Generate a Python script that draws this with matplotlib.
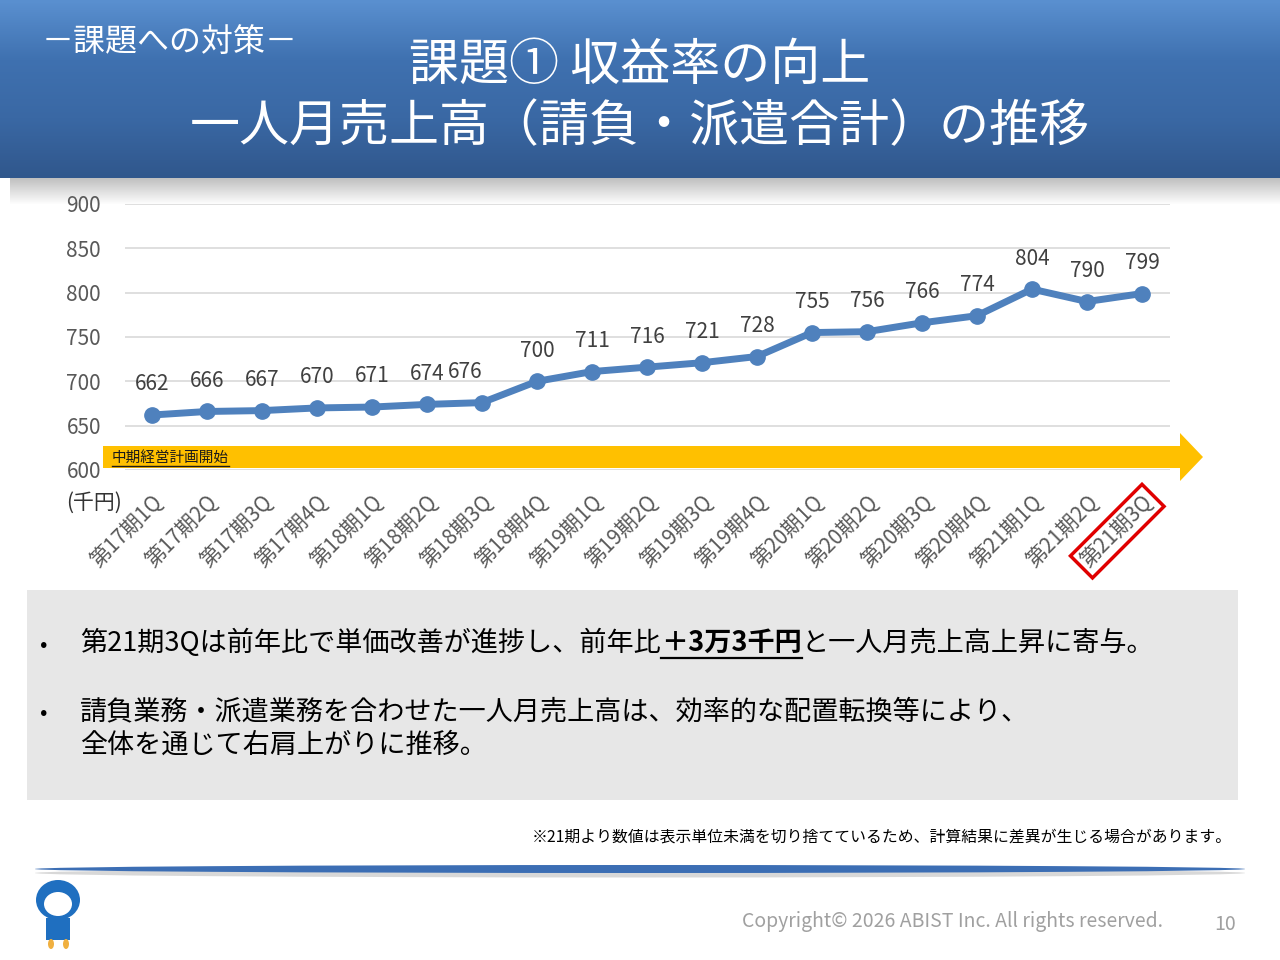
import numpy as np
import matplotlib
matplotlib.use("Agg")
import matplotlib.pyplot as plt
from matplotlib.patches import Polygon, Rectangle, Ellipse
from matplotlib.colors import LinearSegmentedColormap

plt.rcParams['font.family'] = ['Noto Sans CJK JP', 'DejaVu Sans']

# ---- data -------------------------------------------------------------
QUARTERS = ["第17期1Q", "第17期2Q", "第17期3Q", "第17期4Q",
            "第18期1Q", "第18期2Q", "第18期3Q", "第18期4Q",
            "第19期1Q", "第19期2Q", "第19期3Q", "第19期4Q",
            "第20期1Q", "第20期2Q", "第20期3Q", "第20期4Q",
            "第21期1Q", "第21期2Q", "第21期3Q"]
SALES = [662, 666, 667, 670, 671, 674, 676, 700, 711, 716,
         721, 728, 755, 756, 766, 774, 804, 790, 799]
Y_TICKS = [600, 650, 700, 750, 800, 850, 900]

TITLE_1 = "課題① 収益率の向上"
TITLE_2 = "一人月売上高（請負・派遣合計）の推移"
SUBTITLE = "－課題への対策－"
ARROW_LABEL = "中期経営計画開始"
UNIT = "(千円)"
BULLET_1 = ["第21期3Qは前年比で単価改善が進捗し、前年比", "＋3万3千円", "と一人月売上高上昇に寄与。"]
BULLET_2 = ["請負業務・派遣業務を合わせた一人月売上高は、効率的な配置転換等により、",
            "全体を通じて右肩上がりに推移。"]
FOOTNOTE = "※21期より数値は表示単位未満を切り捨てているため、計算結果に差異が生じる場合があります。"
COPYRIGHT = "Copyright© 2026 ABIST Inc. All rights reserved."
PAGE = "10"

LINE_COLOR = "#4F81BD"
GREY_TXT = "#595959"

fig = plt.figure(figsize=(12.8, 9.6), dpi=100)
fig.patch.set_facecolor("white")

# background axes in pixel units (y downwards)
bg = fig.add_axes([0, 0, 1, 1], zorder=0)
bg.set_xlim(0, 1280)
bg.set_ylim(960, 0)
bg.axis("off")

# header band with vertical gradient
hdr_cmap = LinearSegmentedColormap.from_list(
    "hdr", ["#5A90D0", "#3F71B0", "#3A68A4", "#30578C"])
grad = np.linspace(0, 1, 200).reshape(-1, 1)
bg.imshow(grad, extent=[0, 1280, 178, 0], aspect="auto", cmap=hdr_cmap, zorder=1)
# soft shadow under header
sh = np.zeros((30, 2, 4))
sh[..., :3] = 0.45
sh[..., 3] = np.linspace(0.45, 0, 30)[:, None]
bg.imshow(sh, extent=[10, 1280, 205, 178], aspect="auto", zorder=0.5)

bg.text(42, 42, SUBTITLE, color="white", fontsize=23, va="center", ha="left", zorder=3)
bg.text(640, 66, TITLE_1, color="white", fontsize=36, va="center", ha="center", zorder=3)
bg.text(640, 127, TITLE_2, color="white", fontsize=36, va="center", ha="center", zorder=3)

# ---- chart -----------------------------------------------------------
ax = fig.add_axes([124.5 / 1280, 1 - 470 / 960, 1045 / 1280, 266 / 960], zorder=2)
ax.patch.set_alpha(0)
x = np.arange(len(QUARTERS))
ax.set_xlim(-0.5, len(QUARTERS) - 0.5)
ax.set_ylim(Y_TICKS[0], Y_TICKS[-1])
ax.set_yticks(Y_TICKS)
ax.yaxis.grid(True, color="#D9D9D9", lw=1.2)
ax.set_axisbelow(True)
for s in ax.spines.values():
    s.set_visible(False)
ax.tick_params(axis="y", length=0, labelsize=15, labelcolor=GREY_TXT, pad=17)
ax.tick_params(axis="x", length=0, labelsize=15, labelcolor=GREY_TXT, pad=15)
ax.set_xticks(x)
ax.set_xticklabels(QUARTERS, rotation=45, ha="right", va="top",
                   rotation_mode="anchor")
last = ax.get_xticklabels()[-1]
last.set_bbox(dict(boxstyle="square,pad=0.22", fc="none", ec="#E00000", lw=2.5))

ax.plot(x, SALES, color=LINE_COLOR, lw=5, marker="o", ms=11, zorder=4)

label_nudge = {6: 6}  # label of 第18期3Q sits slightly left
for i, v in enumerate(SALES):
    dx = -label_nudge.get(i, 0) * 2
    ax.annotate(str(v), (i, v), xytext=(dx, 22), textcoords="offset points",
                ha="center", va="center", fontsize=15, color="#404040", zorder=5)

# yellow arrow across the chart (pixel coords)
arrow = Polygon([(103, 446), (1180, 446), (1180, 433), (1203, 457),
                 (1180, 481), (1180, 468), (103, 468)],
                closed=True, fc="#FFC000", ec="none",
                transform=bg.transData, clip_on=False, zorder=3)
ax.add_patch(arrow)
t = ax.text(112, 458, ARROW_LABEL, transform=bg.transData, fontsize=10.5,
            color="#1a1a1a", va="center", ha="left", zorder=6)
r = fig.canvas.get_renderer()
bb = t.get_window_extent(renderer=r)
ax.plot([112, 112 + bb.width], [466, 466], color="#1a1a1a", lw=1,
        transform=bg.transData, clip_on=False, zorder=6)

bg.text(66, 503, UNIT, fontsize=15, color="#333333", va="center", ha="left", zorder=3)

# ---- comment box -----------------------------------------------------
bg.add_patch(Rectangle((27, 590), 1211, 210, fc="#E7E7E7", ec="none", zorder=1))
fs = 19.5
bg.text(40, 645, "•", fontsize=16, va="center", ha="left", color="black", zorder=3)
bg.text(40, 713, "•", fontsize=16, va="center", ha="left", color="black", zorder=3)

xp = 80
for k, seg in enumerate(BULLET_1):
    txt = bg.text(xp, 643, seg, fontsize=fs, va="center", ha="left", color="black",
                  fontweight="bold" if k == 1 else "normal", zorder=3)
    w = txt.get_window_extent(renderer=r).width
    if k == 1:
        bg.plot([xp, xp + w], [658, 658], color="black", lw=1.6, zorder=3)
    xp += w
bg.text(80, 712, BULLET_2[0], fontsize=fs, va="center", ha="left", color="black", zorder=3)
bg.text(80, 745, BULLET_2[1], fontsize=fs, va="center", ha="left", color="black", zorder=3)

bg.text(1232, 837, FOOTNOTE, fontsize=11.4, va="center", ha="right", color="black", zorder=3)

# ---- footer ------------------------------------------------------------
bg.add_patch(Ellipse((640, 873), 1210, 9, fc="#BFBFBF", ec="none", alpha=0.6, zorder=1))
bg.add_patch(Ellipse((640, 869), 1210, 8, fc="#3C6EB4", ec="none", zorder=2))
bg.text(1163, 922, COPYRIGHT, fontsize=14, va="center", ha="right", color="#A0A0A0", zorder=3)
bg.text(1225, 925, PAGE, fontsize=14, va="center", ha="center", color="#A0A0A0", zorder=3)

# small mascot placeholder
bg.add_patch(Ellipse((58, 900), 44, 40, fc="#1F6FC0", ec="none", zorder=2))
bg.add_patch(Ellipse((58, 904), 28, 24, fc="white", ec="none", zorder=3))
bg.add_patch(Rectangle((46, 918), 24, 22, fc="#1F6FC0", ec="none", zorder=2))
bg.add_patch(Ellipse((51, 944), 6, 10, fc="#F0B040", ec="none", zorder=2))
bg.add_patch(Ellipse((66, 944), 6, 10, fc="#F0B040", ec="none", zorder=2))

fig.savefig("out.png", dpi=100)
